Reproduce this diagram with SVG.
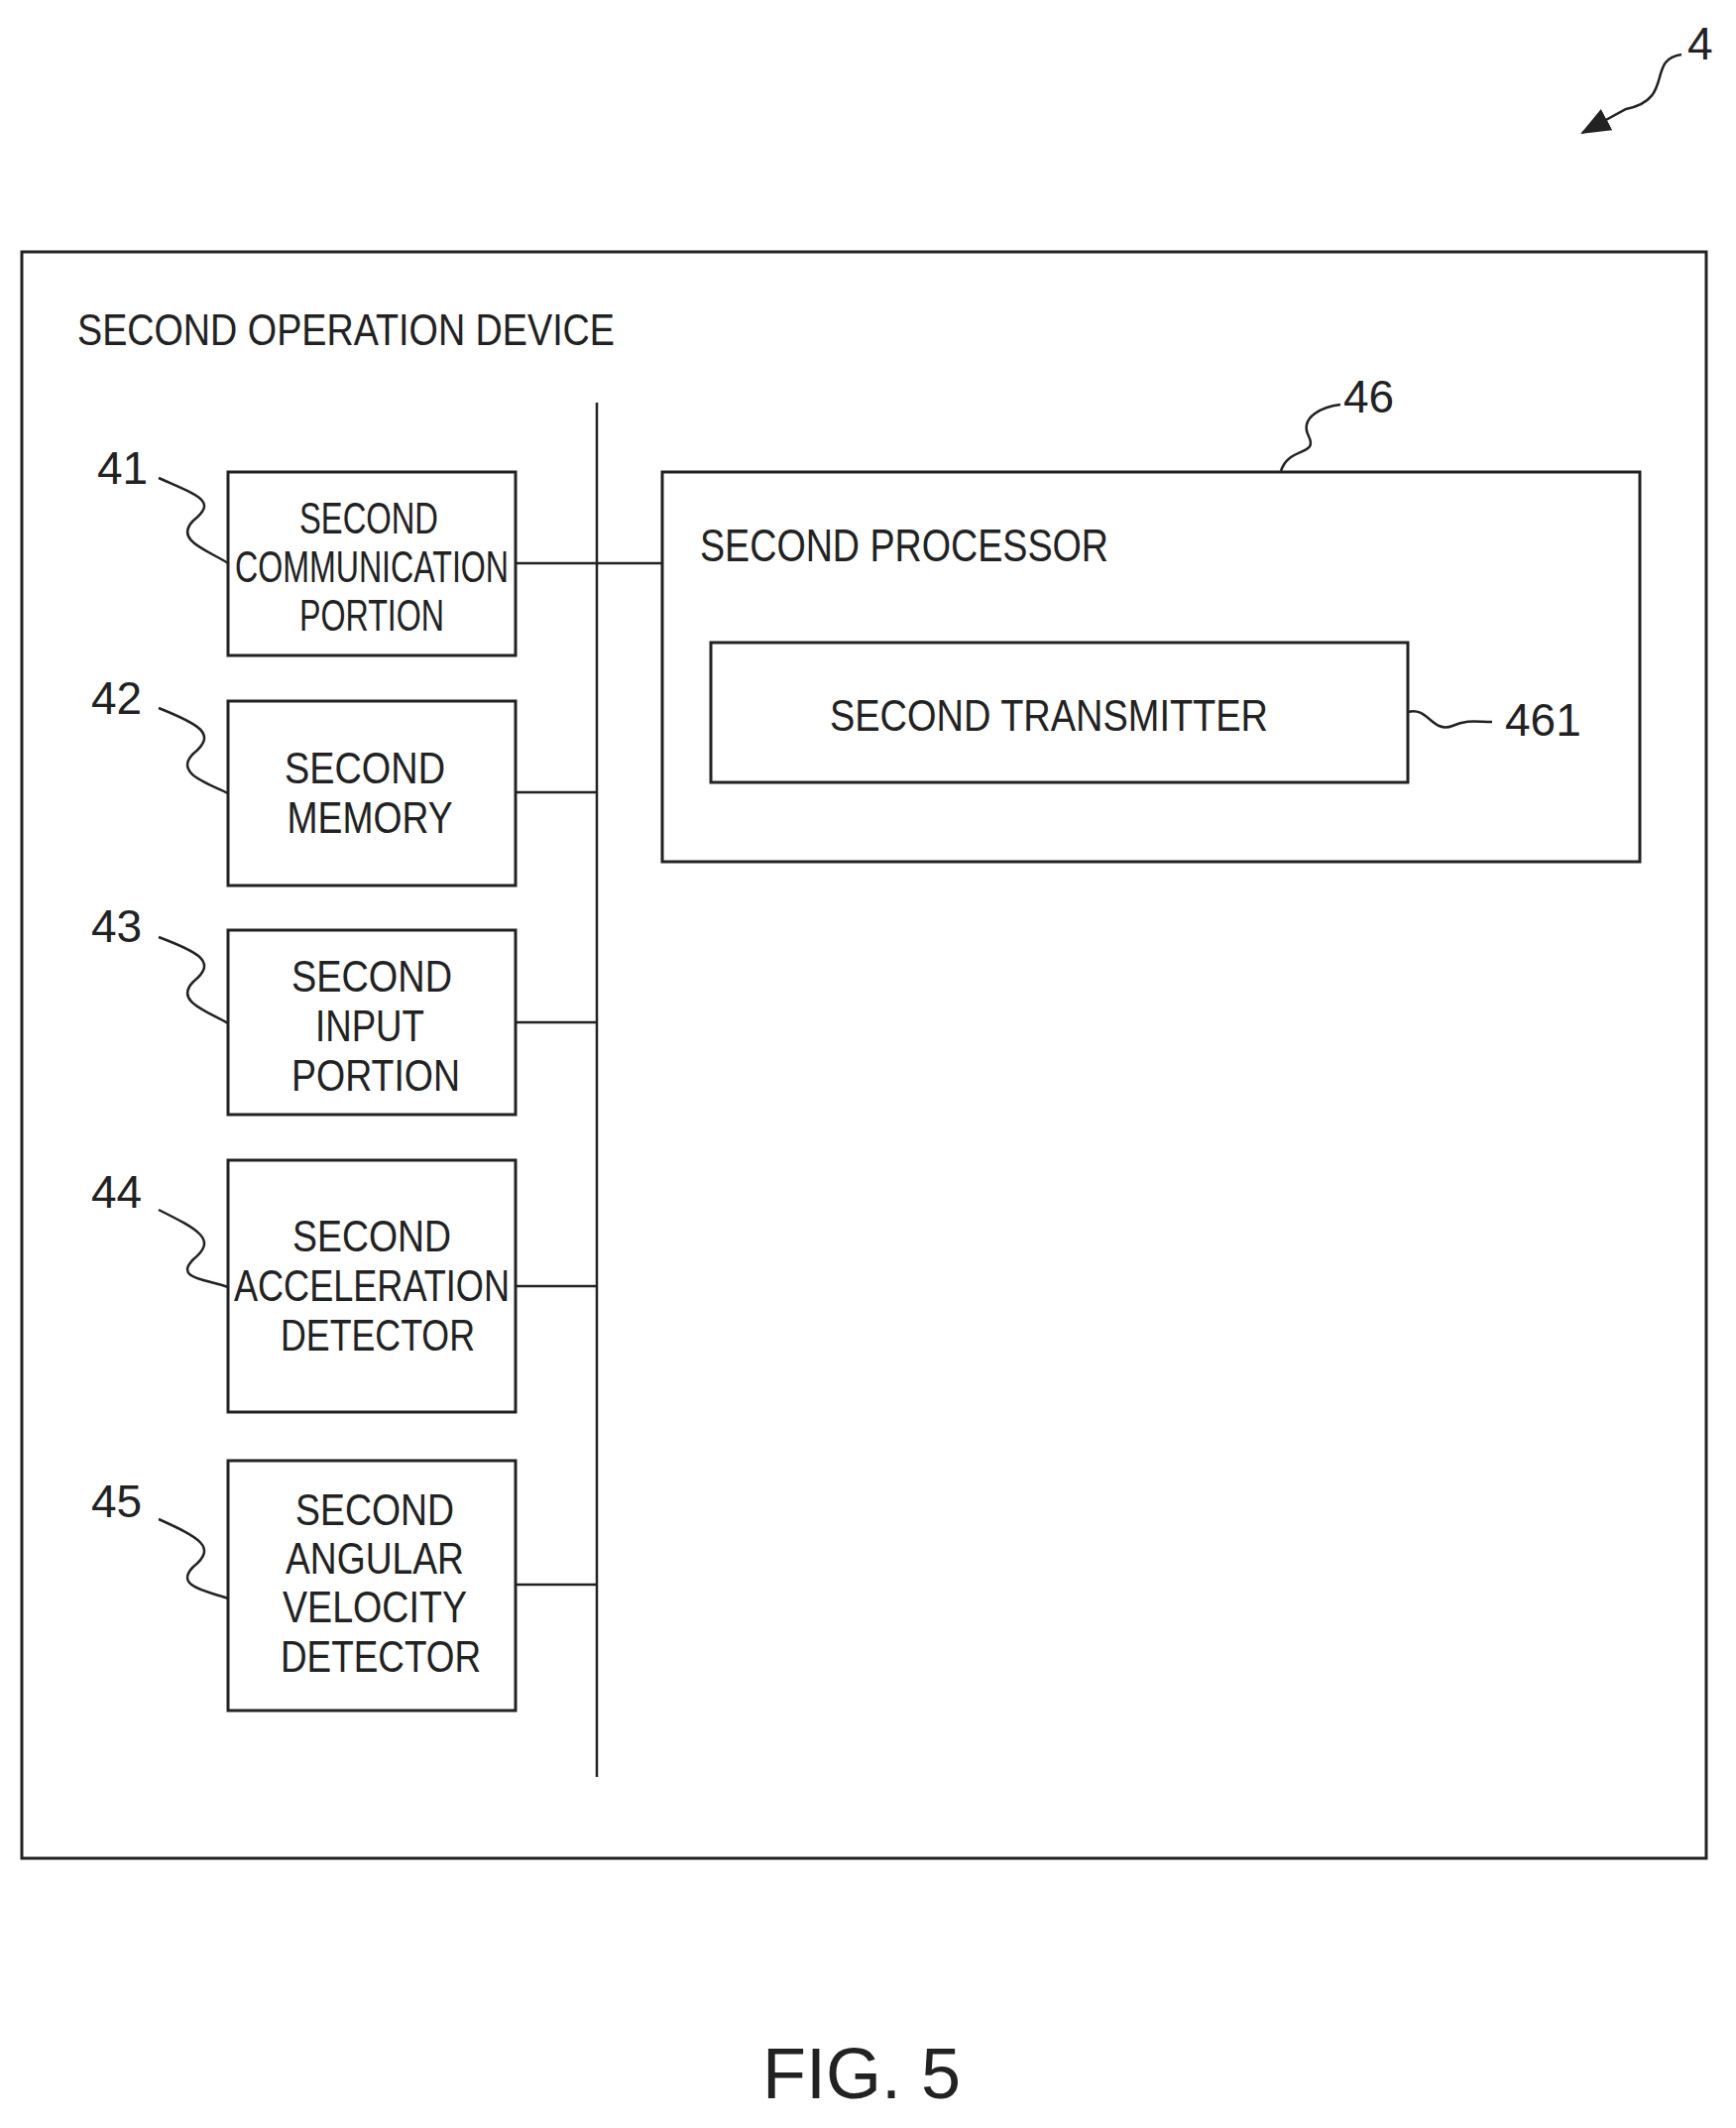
<svg xmlns="http://www.w3.org/2000/svg" width="1751" height="2146" viewBox="0 0 1751 2146">
<style>
.b{fill:none;stroke:#222;stroke-width:3}
.l{fill:none;stroke:#222;stroke-width:2.5}
text{font-family:"Liberation Sans",Arial,sans-serif;fill:#222}
.t{font-size:44px;text-anchor:middle}
.n{font-size:46px}
</style>
<defs><marker id="a" markerWidth="30" markerHeight="24" refX="28" refY="12" orient="auto" markerUnits="userSpaceOnUse"><path d="M0,0 L30,12 L0,24 Z" fill="#222"/></marker></defs>
<rect width="1751" height="2146" fill="#fff"/>
<g id="device"><rect class="b" x="22" y="254" width="1699" height="1620"/><text x="78" y="348" font-size="44" textLength="542" lengthAdjust="spacingAndGlyphs">SECOND OPERATION DEVICE</text></g>
<g id="connectors">
<line class="l" x1="602" y1="406" x2="602" y2="1792"/>
<line class="l" x1="520" y1="568" x2="668" y2="568"/>
<line class="l" x1="520" y1="799" x2="602" y2="799"/>
<line class="l" x1="520" y1="1031" x2="602" y2="1031"/>
<line class="l" x1="520" y1="1297" x2="602" y2="1297"/>
<line class="l" x1="520" y1="1598" x2="602" y2="1598"/>
<path class="l" d="M1696,55 C1660,60 1690,100 1640,110 L1596,134" marker-end="url(#a)"/>
</g>
<g id="n41"><rect class="b" x="230" y="476" width="290" height="185"/><text class="t" x="372" y="538" textLength="140" lengthAdjust="spacingAndGlyphs">SECOND</text><text class="t" x="375" y="587" textLength="276" lengthAdjust="spacingAndGlyphs">COMMUNICATION</text><text class="t" x="375" y="636" textLength="146" lengthAdjust="spacingAndGlyphs">PORTION</text><text class="n" x="98" y="488">41</text><path class="l" d="M160,482 C200,500 220,505 195,525 C175,545 210,555 230,568"/></g>
<g id="n42"><rect class="b" x="230" y="707" width="290" height="186"/><text class="t" x="368" y="790" textLength="162" lengthAdjust="spacingAndGlyphs">SECOND</text><text class="t" x="373" y="840" textLength="167" lengthAdjust="spacingAndGlyphs">MEMORY</text><text class="n" x="92" y="720">42</text><path class="l" d="M160,714 C200,730 220,740 195,760 C175,780 210,790 230,800"/></g>
<g id="n43"><rect class="b" x="230" y="938" width="290" height="186"/><text class="t" x="375" y="1000" textLength="162" lengthAdjust="spacingAndGlyphs">SECOND</text><text class="t" x="373" y="1050" textLength="110" lengthAdjust="spacingAndGlyphs">INPUT</text><text class="t" x="379" y="1100" textLength="170" lengthAdjust="spacingAndGlyphs">PORTION</text><text class="n" x="92" y="950">43</text><path class="l" d="M160,945 C200,960 220,970 195,990 C175,1010 210,1020 230,1032"/></g>
<g id="n44"><rect class="b" x="230" y="1170" width="290" height="254"/><text class="t" x="375" y="1262" textLength="160" lengthAdjust="spacingAndGlyphs">SECOND</text><text class="t" x="375" y="1312" textLength="278" lengthAdjust="spacingAndGlyphs">ACCELERATION</text><text class="t" x="381" y="1362" textLength="196" lengthAdjust="spacingAndGlyphs">DETECTOR</text><text class="n" x="92" y="1218">44</text><path class="l" d="M160,1220 C200,1240 220,1250 195,1270 C175,1290 210,1290 230,1298"/></g>
<g id="n45"><rect class="b" x="230" y="1473" width="290" height="252"/><text class="t" x="378" y="1538" textLength="160" lengthAdjust="spacingAndGlyphs">SECOND</text><text class="t" x="378" y="1587" textLength="180" lengthAdjust="spacingAndGlyphs">ANGULAR</text><text class="t" x="378" y="1636" textLength="186" lengthAdjust="spacingAndGlyphs">VELOCITY</text><text class="t" x="384" y="1686" textLength="202" lengthAdjust="spacingAndGlyphs">DETECTOR</text><text class="n" x="92" y="1530">45</text><path class="l" d="M160,1532 C200,1550 220,1560 195,1580 C175,1600 210,1605 230,1612"/></g>
<g id="n46"><rect class="b" x="668" y="476" width="986" height="393"/><text x="706" y="566" font-size="46" textLength="412" lengthAdjust="spacingAndGlyphs">SECOND PROCESSOR</text><text class="n" x="1355" y="416">46</text><path class="l" d="M1292,475 C1300,450 1330,460 1320,440 C1310,420 1335,410 1352,408"/></g>
<g id="n461"><rect class="b" x="717" y="648" width="703" height="141"/><text class="t" x="1058" y="737" textLength="442" lengthAdjust="spacingAndGlyphs">SECOND TRANSMITTER</text><text class="n" x="1518" y="742">461</text><path class="l" d="M1420,718 C1440,712 1445,740 1465,732 C1480,725 1490,728 1505,728"/></g>
<g id="n4"><text class="n" x="1702" y="60">4</text></g>
<text x="869" y="2116" font-size="72" text-anchor="middle">FIG. 5</text>
</svg>
